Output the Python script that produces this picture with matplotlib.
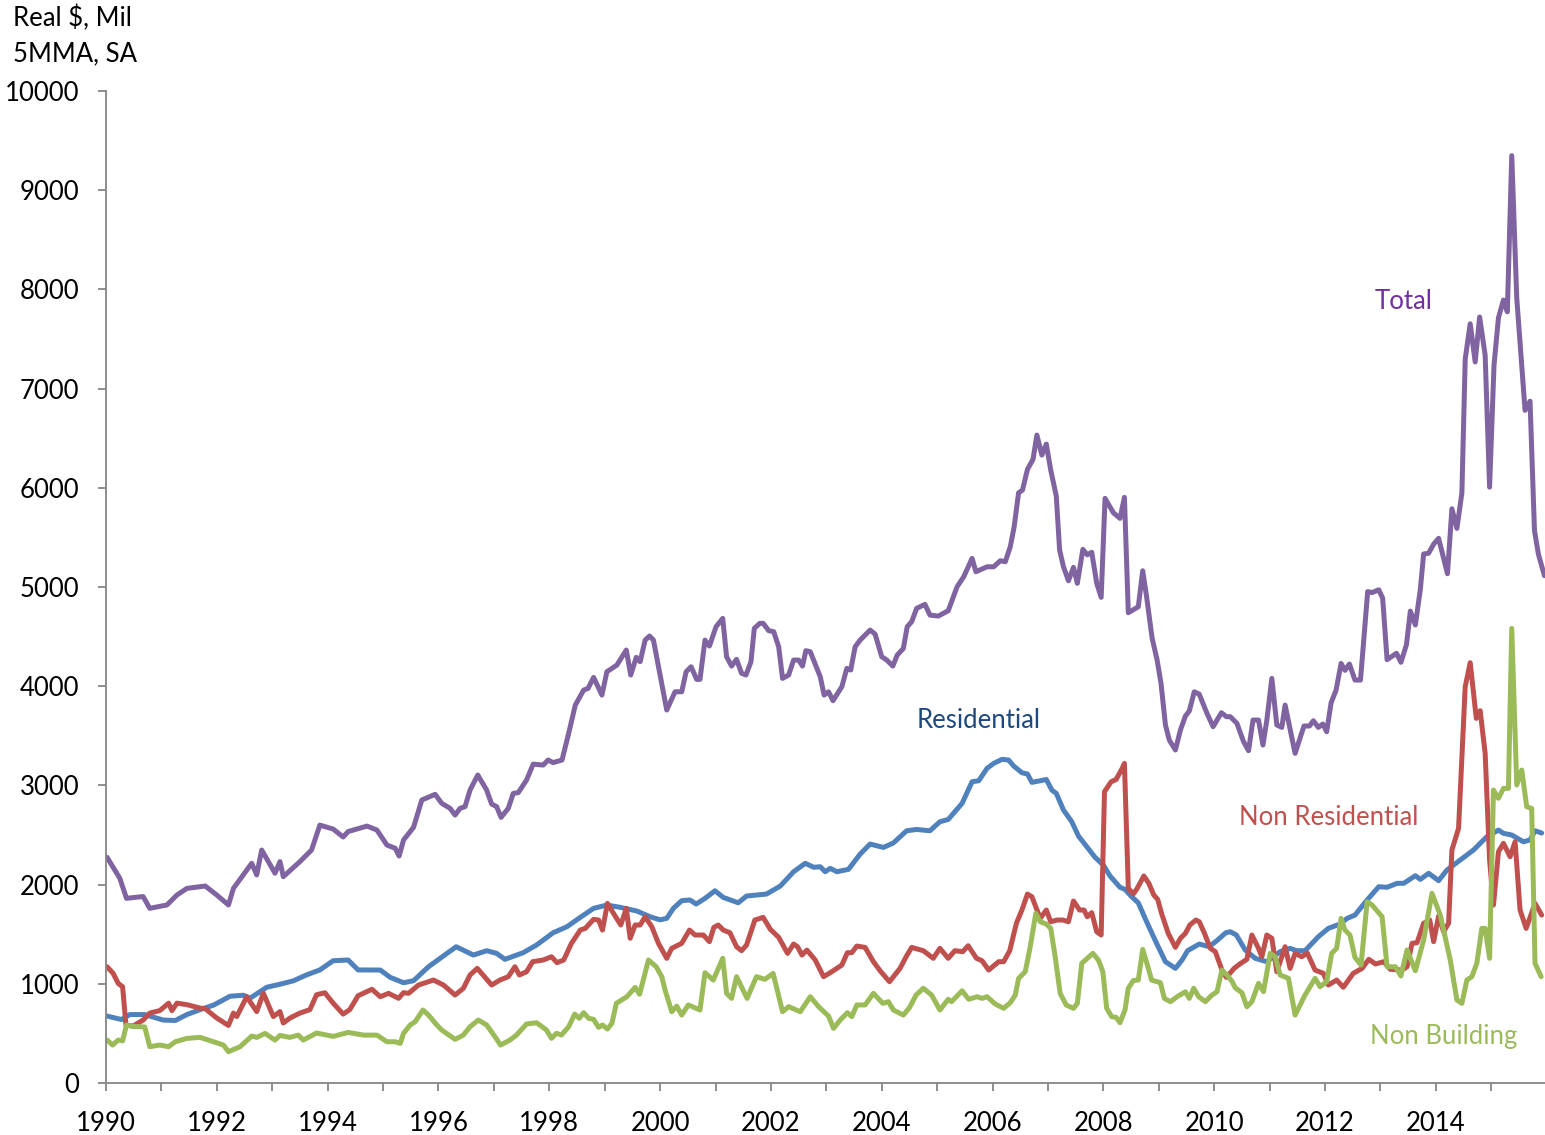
import numpy as np
import matplotlib
matplotlib.use("Agg")
from matplotlib import pyplot as plt

# real $ mil, 5 month moving average (decimal year, value)
total = [
    (1990.02, 2275), (1990.25, 2063), (1990.37, 1862), (1990.67, 1880), (1990.79, 1761),
    (1991.10, 1795), (1991.28, 1895), (1991.46, 1962), (1991.79, 1986), (1992.00, 1895),
    (1992.21, 1795), (1992.30, 1962), (1992.63, 2215), (1992.72, 2098), (1992.81, 2349),
    (1993.05, 2115), (1993.14, 2232), (1993.20, 2080), (1993.50, 2232), (1993.71, 2349),
    (1993.86, 2600), (1994.10, 2560), (1994.28, 2480), (1994.37, 2535), (1994.71, 2590),
    (1994.89, 2550), (1994.95, 2500), (1995.07, 2399), (1995.22, 2366), (1995.29, 2288),
    (1995.37, 2450), (1995.55, 2577), (1995.70, 2853), (1995.94, 2910), (1996.06, 2819),
    (1996.21, 2769), (1996.30, 2701), (1996.39, 2769), (1996.48, 2786), (1996.57, 2953),
    (1996.71, 3105), (1996.87, 2953), (1996.96, 2812), (1997.05, 2786), (1997.13, 2678),
    (1997.26, 2769), (1997.35, 2920), (1997.44, 2927), (1997.59, 3054), (1997.71, 3215),
    (1997.89, 3205), (1997.98, 3256), (1998.07, 3230), (1998.23, 3256), (1998.35, 3525),
    (1998.47, 3810), (1998.62, 3961), (1998.70, 3978), (1998.80, 4089), (1998.95, 3911),
    (1999.04, 4146), (1999.22, 4213), (1999.39, 4365), (1999.47, 4113), (1999.57, 4291),
    (1999.64, 4247), (1999.73, 4465), (1999.81, 4506), (1999.88, 4465), (2000.12, 3760),
    (2000.27, 3944), (2000.39, 3944), (2000.47, 4146), (2000.56, 4196), (2000.66, 4069),
    (2000.72, 4069), (2000.81, 4465), (2000.89, 4405), (2001.01, 4600), (2001.13, 4684),
    (2001.20, 4297), (2001.29, 4203), (2001.38, 4271), (2001.47, 4130), (2001.55, 4113),
    (2001.64, 4247), (2001.70, 4583), (2001.80, 4634), (2001.86, 4634), (2001.96, 4560),
    (2002.05, 4550), (2002.14, 4398), (2002.21, 4079), (2002.32, 4113), (2002.41, 4264),
    (2002.50, 4264), (2002.57, 4203), (2002.63, 4358), (2002.71, 4348), (2002.89, 4096),
    (2002.96, 3911), (2003.04, 3944), (2003.12, 3854), (2003.28, 3995), (2003.37, 4180),
    (2003.44, 4163), (2003.52, 4398), (2003.61, 4465), (2003.79, 4566), (2003.88, 4526),
    (2004.00, 4297), (2004.09, 4264), (2004.20, 4203), (2004.28, 4314), (2004.39, 4381),
    (2004.46, 4600), (2004.54, 4650), (2004.63, 4785), (2004.78, 4825), (2004.87, 4717),
    (2005.02, 4707), (2005.20, 4761), (2005.36, 5003), (2005.48, 5104), (2005.63, 5289),
    (2005.70, 5154), (2005.90, 5204), (2006.02, 5204), (2006.14, 5265), (2006.23, 5255),
    (2006.32, 5406), (2006.39, 5608), (2006.47, 5950), (2006.54, 5977), (2006.63, 6186),
    (2006.73, 6287), (2006.80, 6532), (2006.89, 6330), (2006.97, 6441), (2007.05, 6179),
    (2007.15, 5917), (2007.21, 5373), (2007.28, 5204), (2007.37, 5063), (2007.46, 5198),
    (2007.53, 5037), (2007.63, 5380), (2007.71, 5325), (2007.79, 5350), (2007.88, 5037),
    (2007.96, 4896), (2008.03, 5894), (2008.18, 5749), (2008.30, 5692), (2008.38, 5904),
    (2008.45, 4741), (2008.63, 4801), (2008.71, 5164), (2008.78, 4902), (2008.88, 4482),
    (2008.97, 4264), (2009.04, 4029), (2009.12, 3609), (2009.19, 3457), (2009.30, 3357),
    (2009.39, 3558), (2009.48, 3699), (2009.55, 3750), (2009.64, 3944), (2009.73, 3920),
    (2009.87, 3726), (2009.98, 3592), (2010.13, 3733), (2010.22, 3693), (2010.29, 3693),
    (2010.41, 3626), (2010.53, 3441), (2010.62, 3350), (2010.70, 3659), (2010.80, 3659),
    (2010.88, 3407), (2010.95, 3659), (2011.04, 4079), (2011.13, 3609), (2011.22, 3585),
    (2011.28, 3810), (2011.46, 3323), (2011.62, 3599), (2011.72, 3599), (2011.79, 3652),
    (2011.88, 3585), (2011.96, 3619), (2012.03, 3541), (2012.11, 3834), (2012.20, 3961),
    (2012.29, 4230), (2012.36, 4160), (2012.44, 4224), (2012.54, 4062), (2012.64, 4062),
    (2012.77, 4954), (2012.85, 4944), (2012.97, 4972), (2013.04, 4888), (2013.12, 4268),
    (2013.29, 4332), (2013.37, 4241), (2013.47, 4419), (2013.54, 4757), (2013.63, 4617),
    (2013.72, 4975), (2013.78, 5333), (2013.87, 5341), (2013.96, 5432), (2014.05, 5491),
    (2014.21, 5134), (2014.29, 5789), (2014.38, 5591), (2014.47, 5948), (2014.53, 7297),
    (2014.62, 7654), (2014.71, 7269), (2014.79, 7722), (2014.89, 7337), (2014.97, 6007),
    (2015.05, 7238), (2015.13, 7714), (2015.22, 7893), (2015.29, 7774), (2015.37, 9349),
    (2015.46, 7913), (2015.61, 6781), (2015.70, 6873), (2015.78, 5571), (2015.85, 5333),
    (2015.96, 5114),
]

residential = [
    (1990.02, 675), (1990.28, 640), (1990.43, 690), (1990.70, 690), (1991.03, 635),
    (1991.25, 630), (1991.46, 690), (1991.70, 740), (1991.94, 785), (1992.24, 875),
    (1992.48, 885), (1992.60, 855), (1992.90, 965), (1993.17, 1000), (1993.38, 1030),
    (1993.62, 1090), (1993.86, 1140), (1994.10, 1233), (1994.37, 1240), (1994.55, 1140),
    (1994.71, 1140), (1994.95, 1139), (1995.13, 1065), (1995.37, 1011), (1995.55, 1031),
    (1995.82, 1172), (1996.03, 1257), (1996.32, 1374), (1996.63, 1290), (1996.87, 1334),
    (1997.05, 1307), (1997.20, 1247), (1997.53, 1314), (1997.77, 1391), (1998.07, 1515),
    (1998.32, 1576), (1998.56, 1670), (1998.80, 1761), (1999.04, 1794), (1999.28, 1771),
    (1999.58, 1734), (1999.82, 1676), (2000.00, 1645), (2000.12, 1660), (2000.24, 1761),
    (2000.39, 1838), (2000.54, 1845), (2000.65, 1804), (2000.81, 1861), (2000.99, 1938),
    (2001.14, 1871), (2001.41, 1817), (2001.56, 1885), (2001.92, 1905), (2002.17, 1986),
    (2002.41, 2130), (2002.62, 2215), (2002.77, 2175), (2002.89, 2180), (2002.98, 2130),
    (2003.07, 2164), (2003.19, 2130), (2003.40, 2154), (2003.61, 2308), (2003.79, 2409),
    (2004.03, 2375), (2004.21, 2420), (2004.45, 2543), (2004.63, 2556), (2004.87, 2543),
    (2005.05, 2634), (2005.20, 2657), (2005.45, 2819), (2005.63, 3037), (2005.75, 3047),
    (2005.90, 3172), (2006.02, 3222), (2006.17, 3263), (2006.29, 3256), (2006.38, 3196),
    (2006.53, 3128), (2006.63, 3115), (2006.71, 3031), (2006.86, 3047), (2006.97, 3060),
    (2007.07, 2953), (2007.15, 2920), (2007.28, 2752), (2007.43, 2634), (2007.55, 2490),
    (2007.70, 2382), (2007.85, 2275), (2008.00, 2197), (2008.12, 2087), (2008.30, 1973),
    (2008.39, 1952), (2008.51, 1878), (2008.63, 1817), (2008.78, 1626), (2008.96, 1408),
    (2009.12, 1223), (2009.30, 1156), (2009.42, 1240), (2009.52, 1334), (2009.73, 1401),
    (2009.91, 1374), (2010.06, 1441), (2010.21, 1515), (2010.29, 1525), (2010.40, 1492),
    (2010.56, 1341), (2010.74, 1257), (2010.95, 1223), (2011.19, 1324), (2011.37, 1357),
    (2011.49, 1334), (2011.64, 1334), (2011.88, 1475), (2012.06, 1559), (2012.27, 1603),
    (2012.40, 1660), (2012.54, 1693), (2012.76, 1845), (2012.97, 1979), (2013.12, 1973),
    (2013.30, 2013), (2013.42, 2013), (2013.63, 2090), (2013.72, 2053), (2013.87, 2114),
    (2014.05, 2040), (2014.20, 2147), (2014.44, 2248), (2014.68, 2349), (2014.92, 2483),
    (2015.13, 2550), (2015.22, 2517), (2015.37, 2500), (2015.58, 2432), (2015.70, 2450),
    (2015.79, 2543), (2015.91, 2520),
]

non_residential = [
    (1990.02, 1172), (1990.13, 1105), (1990.22, 1005), (1990.30, 970), (1990.36, 585),
    (1990.49, 575), (1990.67, 635), (1990.79, 705), (1990.97, 730), (1991.13, 805),
    (1991.19, 730), (1991.28, 805), (1991.46, 790), (1991.70, 755), (1991.79, 750),
    (1992.00, 655), (1992.21, 580), (1992.30, 705), (1992.36, 670), (1992.54, 870),
    (1992.72, 720), (1992.84, 905), (1993.02, 670), (1993.14, 720), (1993.20, 605),
    (1993.32, 655), (1993.50, 705), (1993.68, 740), (1993.80, 890), (1993.95, 910),
    (1994.10, 805), (1994.28, 695), (1994.40, 740), (1994.55, 880), (1994.80, 945),
    (1994.95, 870), (1995.10, 904), (1995.28, 854), (1995.37, 911), (1995.46, 904),
    (1995.64, 988), (1995.91, 1038), (1996.09, 988), (1996.30, 887), (1996.45, 955),
    (1996.57, 1089), (1996.70, 1156), (1996.96, 988), (1997.11, 1038), (1997.26, 1072),
    (1997.38, 1172), (1997.46, 1089), (1997.59, 1122), (1997.70, 1223), (1997.89, 1240),
    (1998.04, 1273), (1998.14, 1213), (1998.26, 1240), (1998.40, 1408), (1998.56, 1542),
    (1998.65, 1559), (1998.80, 1650), (1998.89, 1643), (1998.96, 1542), (1999.05, 1811),
    (1999.16, 1710), (1999.29, 1593), (1999.39, 1761), (1999.46, 1459), (1999.55, 1593),
    (1999.64, 1593), (1999.73, 1676), (1999.85, 1576), (1999.97, 1408), (2000.12, 1257),
    (2000.21, 1358), (2000.39, 1408), (2000.53, 1542), (2000.63, 1492), (2000.78, 1492),
    (2000.89, 1425), (2000.97, 1569), (2001.05, 1593), (2001.14, 1542), (2001.26, 1515),
    (2001.38, 1374), (2001.47, 1334), (2001.56, 1391), (2001.71, 1643), (2001.86, 1670),
    (2001.99, 1549), (2002.14, 1469), (2002.30, 1307), (2002.41, 1401), (2002.48, 1374),
    (2002.56, 1290), (2002.65, 1340), (2002.80, 1240), (2002.95, 1072), (2003.07, 1112),
    (2003.28, 1189), (2003.38, 1314), (2003.46, 1314), (2003.55, 1381), (2003.70, 1367),
    (2003.85, 1223), (2003.97, 1132), (2004.14, 1021), (2004.33, 1156), (2004.44, 1273),
    (2004.54, 1367), (2004.75, 1334), (2004.93, 1257), (2005.05, 1358), (2005.20, 1257),
    (2005.32, 1334), (2005.46, 1324), (2005.56, 1384), (2005.71, 1257), (2005.81, 1233),
    (2005.93, 1139), (2006.11, 1223), (2006.20, 1223), (2006.31, 1334), (2006.43, 1610),
    (2006.53, 1744), (2006.63, 1905), (2006.71, 1878), (2006.86, 1660), (2006.97, 1744),
    (2007.05, 1626), (2007.16, 1643), (2007.27, 1643), (2007.37, 1626), (2007.46, 1835),
    (2007.57, 1744), (2007.65, 1744), (2007.71, 1676), (2007.79, 1717), (2007.88, 1525),
    (2007.96, 1492), (2008.02, 2937), (2008.14, 3037), (2008.23, 3060), (2008.34, 3172),
    (2008.38, 3222), (2008.45, 1962), (2008.54, 1905), (2008.61, 1962), (2008.73, 2087),
    (2008.82, 2013), (2008.91, 1895), (2008.98, 1851), (2009.05, 1710), (2009.17, 1509),
    (2009.30, 1368), (2009.39, 1459), (2009.48, 1509), (2009.56, 1593), (2009.67, 1643),
    (2009.73, 1626), (2009.82, 1515), (2009.93, 1358), (2010.02, 1324), (2010.14, 1139),
    (2010.22, 1065), (2010.36, 1156), (2010.46, 1199), (2010.59, 1247), (2010.68, 1492),
    (2010.80, 1357), (2010.86, 1273), (2010.95, 1492), (2011.04, 1459), (2011.13, 1122),
    (2011.28, 1374), (2011.37, 1156), (2011.46, 1307), (2011.58, 1273), (2011.68, 1310),
    (2011.82, 1139), (2011.97, 1106), (2012.06, 988), (2012.21, 1038), (2012.33, 965),
    (2012.51, 1106), (2012.67, 1156), (2012.79, 1247), (2012.91, 1200), (2013.06, 1223),
    (2013.18, 1146), (2013.39, 1139), (2013.48, 1172), (2013.57, 1408), (2013.66, 1414),
    (2013.78, 1610), (2013.89, 1643), (2013.96, 1425), (2014.05, 1683), (2014.14, 1525),
    (2014.23, 1610), (2014.29, 2349), (2014.41, 2567), (2014.53, 3995), (2014.62, 4237),
    (2014.73, 3676), (2014.80, 3753), (2014.89, 3323), (2014.97, 2248), (2015.04, 1794),
    (2015.13, 2332), (2015.22, 2416), (2015.34, 2281), (2015.43, 2432), (2015.52, 1744),
    (2015.63, 1559), (2015.79, 1811), (2015.91, 1693),
]

non_building = [
    (1990.02, 433), (1990.12, 383), (1990.22, 433), (1990.30, 425), (1990.37, 585),
    (1990.49, 570), (1990.70, 565), (1990.79, 366), (1990.97, 383), (1991.13, 366),
    (1991.25, 416), (1991.46, 450), (1991.70, 460), (1991.94, 416), (1992.12, 383),
    (1992.21, 316), (1992.42, 366), (1992.63, 473), (1992.72, 460), (1992.87, 500),
    (1993.05, 433), (1993.14, 480), (1993.32, 460), (1993.47, 483), (1993.56, 433),
    (1993.80, 504), (1994.10, 470), (1994.37, 510), (1994.65, 483), (1994.89, 483),
    (1995.07, 416), (1995.22, 416), (1995.31, 400), (1995.37, 501), (1995.49, 585),
    (1995.58, 618), (1995.72, 736), (1995.82, 685), (1995.97, 585), (1996.06, 534),
    (1996.30, 440), (1996.45, 484), (1996.57, 567), (1996.72, 635), (1996.87, 585),
    (1997.02, 467), (1997.12, 383), (1997.29, 433), (1997.41, 484), (1997.59, 595),
    (1997.77, 608), (1997.95, 534), (1998.04, 450), (1998.13, 501), (1998.22, 484),
    (1998.35, 567), (1998.46, 695), (1998.54, 652), (1998.62, 709), (1998.71, 652),
    (1998.80, 642), (1998.89, 561), (1998.96, 585), (1999.05, 544), (1999.13, 601),
    (1999.21, 803), (1999.40, 870), (1999.55, 964), (1999.63, 895), (1999.79, 1240),
    (1999.93, 1172), (2000.03, 1072), (2000.09, 937), (2000.21, 719), (2000.30, 775),
    (2000.39, 685), (2000.51, 787), (2000.72, 736), (2000.81, 1112), (2000.96, 1038),
    (2001.13, 1257), (2001.20, 904), (2001.29, 853), (2001.38, 1072), (2001.57, 853),
    (2001.74, 1072), (2001.89, 1045), (2002.04, 1105), (2002.21, 719), (2002.32, 770),
    (2002.53, 719), (2002.71, 870), (2002.86, 770), (2003.04, 675), (2003.13, 551),
    (2003.25, 635), (2003.38, 709), (2003.46, 669), (2003.55, 787), (2003.70, 787),
    (2003.85, 904), (2004.02, 803), (2004.12, 820), (2004.21, 736), (2004.39, 685),
    (2004.50, 760), (2004.62, 887), (2004.75, 955), (2004.90, 887), (2005.05, 736),
    (2005.20, 844), (2005.26, 820), (2005.45, 930), (2005.57, 844), (2005.72, 870),
    (2005.81, 853), (2005.90, 870), (2006.05, 796), (2006.20, 753), (2006.32, 810),
    (2006.41, 887), (2006.47, 1055), (2006.59, 1122), (2006.68, 1374), (2006.78, 1710),
    (2006.86, 1626), (2006.97, 1603), (2007.05, 1559), (2007.13, 1273), (2007.22, 904),
    (2007.33, 786), (2007.46, 753), (2007.53, 803), (2007.61, 1207), (2007.81, 1307),
    (2007.91, 1240), (2007.99, 1122), (2008.06, 753), (2008.15, 669), (2008.23, 662),
    (2008.30, 608), (2008.39, 736), (2008.45, 955), (2008.54, 1033), (2008.63, 1038),
    (2008.71, 1347), (2008.80, 1178), (2008.87, 1038), (2009.03, 1011), (2009.10, 853),
    (2009.21, 820), (2009.33, 870), (2009.48, 920), (2009.55, 853), (2009.63, 955),
    (2009.72, 870), (2009.84, 820), (2009.96, 887), (2010.05, 920), (2010.14, 1139),
    (2010.23, 1089), (2010.32, 1026), (2010.38, 960), (2010.50, 910), (2010.59, 769),
    (2010.68, 820), (2010.80, 1005), (2010.89, 921), (2011.01, 1307), (2011.10, 1273),
    (2011.19, 1089), (2011.34, 1055), (2011.46, 685), (2011.64, 887), (2011.82, 1055),
    (2011.91, 971), (2012.03, 1021), (2012.12, 1307), (2012.21, 1358), (2012.29, 1660),
    (2012.36, 1542), (2012.45, 1492), (2012.54, 1267), (2012.65, 1189), (2012.76, 1828),
    (2012.85, 1794), (2013.03, 1676), (2013.12, 1172), (2013.27, 1172), (2013.37, 1079),
    (2013.48, 1341), (2013.63, 1132), (2013.78, 1441), (2013.93, 1912), (2014.08, 1693),
    (2014.26, 1240), (2014.38, 837), (2014.47, 803), (2014.56, 1038), (2014.65, 1072),
    (2014.74, 1207), (2014.83, 1559), (2014.89, 1559), (2014.97, 1257), (2015.04, 2953),
    (2015.13, 2870), (2015.22, 2970), (2015.31, 2970), (2015.37, 4583), (2015.46, 3004),
    (2015.55, 3155), (2015.64, 2785), (2015.73, 2768), (2015.79, 1207), (2015.90, 1072),
]

years = list(range(1990, 2016))
year_labels = [str(y) if y % 2 == 0 else "" for y in years]
y_ticks = list(range(0, 10001, 1000))

series = [
    (total, "#8064A2"),
    (residential, "#4F81BD"),
    (non_residential, "#C0504D"),
    (non_building, "#9BBB59"),
]

plt.rcParams["font.family"] = ["Lato", "DejaVu Sans"]
fs = 18.5

fig = plt.figure(figsize=(15.45, 11.35), dpi=100)
ax = fig.add_axes([0.0686, 0.0458, 0.9314, 0.874])

for data, color in series:
    xs, ys = zip(*data)
    ax.plot(xs, ys, color=color, lw=3.6, solid_joinstyle="round", solid_capstyle="round")

ax.set_xlim(1990, 2015.97)
ax.set_ylim(0, 10000)

ax.set_xticks(years)
ax.set_xticklabels(year_labels)
ax.set_yticks(y_ticks)

for side in ["top", "right"]:
    ax.spines[side].set_visible(False)
for side in ["left", "bottom"]:
    ax.spines[side].set_color("#868686")
    ax.spines[side].set_linewidth(1.3)

ax.tick_params(axis="both", direction="out", length=6, width=1.3, color="#868686",
               labelsize=fs, labelcolor="black")
ax.tick_params(axis="y", pad=13)
ax.tick_params(axis="x", pad=14)

# series labels placed next to their lines
ax.text(2013.41, 7880, "Total", color="#7030A0", fontsize=fs, ha="center", va="center")
ax.text(2005.74, 3650, "Residential", color="#1F497D", fontsize=fs, ha="center", va="center")
ax.text(2012.06, 2680, "Non Residential", color="#C0504D", fontsize=fs, ha="center", va="center")
ax.text(2014.15, 470, "Non Building", color="#9BBB59", fontsize=fs, ha="center", va="center")

fig.text(0.0084, 0.984, "Real $, Mil", fontsize=fs, ha="left", va="center")
fig.text(0.0084, 0.953, "5MMA, SA", fontsize=fs, ha="left", va="center")

fig.savefig("out.png", dpi=100)
